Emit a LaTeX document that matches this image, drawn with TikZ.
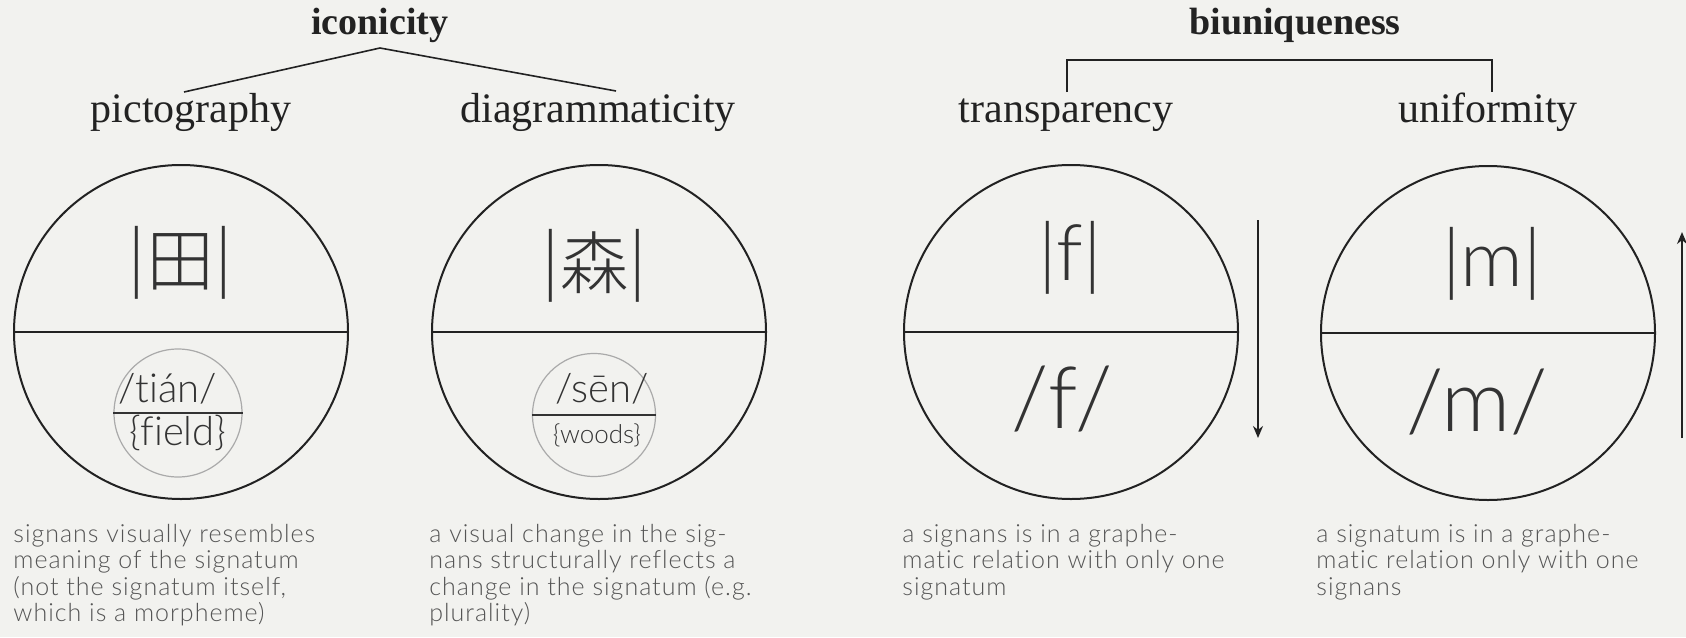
\documentclass[tikz,border=0pt]{standalone}
\usepackage{fontspec}
\setmainfont{Liberation Serif}
\newfontfamily\lightsans{Lato Light}[Ligatures=NoCommon]
\newfontfamily\desclight{Lato Light}[LetterSpace=4,Ligatures=NoCommon]
\newfontfamily\cjk{Noto Sans CJK SC Light}
\usetikzlibrary{arrows.meta}
\definecolor{bg}{HTML}{F2F2EF}
\definecolor{ink}{HTML}{222222}
\definecolor{glyph}{HTML}{333333}
\definecolor{desc}{HTML}{555555}
\definecolor{ring}{HTML}{AAAAAA}
\begin{document}
\begin{tikzpicture}[x=0.5pt,y=-0.5pt,
  head/.style={font=\fontsize{19}{22}\selectfont\bfseries, inner sep=0, anchor=base, text=ink},
  sub/.style={font=\fontsize{21}{24}\selectfont, inner sep=0, anchor=base, text=ink},
  bigc/.style={circle, draw=ink, line width=1pt, minimum size=167pt, inner sep=0},
  smallc/.style={circle, draw=ring, line width=0.6pt, inner sep=0},
  big/.style={font=\lightsans\fontsize{39}{44}\selectfont, text=glyph, inner sep=0},
  bigph/.style={font=\lightsans\fontsize{43}{48}\selectfont, text=glyph, inner sep=0},
  ph/.style={font=\lightsans\fontsize{20}{24}\selectfont, text=glyph, inner sep=0, anchor=base},
  desctext/.style={font=\desclight\fontsize{12.5}{13.2}\selectfont, text=desc, inner sep=0, anchor=north west, align=left},
  conn/.style={draw=ink, line width=0.8pt},
  divider/.style={draw=ink, line width=1pt},
  arr/.style={draw=ink, line width=0.9pt, -{Stealth[length=6pt,width=5pt]}}
]
\fill[bg] (0,0) rectangle (1686,637);
\useasboundingbox (0,0) rectangle (1686,637);

% headings
\node[head] (ico) at (380,34) {iconicity};
\node[head] (biu) at (1295,34) {biuniqueness};
\node[sub] (pic) at (191,122) {pictography};
\node[sub] (dia) at (598,122) {diagrammaticity};
\node[sub] (tra) at (1066,122) {transparency};
\node[sub] (uni) at (1488,122) {uniformity};

\path (ico.base) ++(0,14) coordinate (apex);
\path (pic.base) ++(-7,-30) coordinate (picTop);
\path (dia.base) ++(18,-31) coordinate (diaTop);
\draw[conn] (picTop) -- (apex) -- (diaTop);

\coordinate (bar) at (0,60);
\path (tra.base) ++(1,-30) coordinate (traTop);
\path (uni.base) ++(4,-30) coordinate (uniTop);
\draw[conn] (traTop) -- (traTop |- bar) -- (uniTop |- bar) -- (uniTop);

% big circles
\node[bigc] (c1) at (181,332) {};
\node[bigc] (c2) at (599,332) {};
\node[bigc] (c3) at (1071,332) {};
\node[bigc] (c4) at (1488,333) {};
\draw[divider] (c1.west) -- (c1.east);
\draw[divider] (c2.west) -- (c2.east);
\draw[divider] (c3.west) -- (c3.east);
\draw[divider] (c4.west) -- (c4.east);

% small circles
\node[smallc, minimum size=64pt] (i1) at (178,413) {};
\node[smallc, minimum size=61.5pt] (i2) at (594,415) {};
\draw[draw=glyph, line width=1pt] (i1.west) -- (i1.east);
\draw[draw=glyph, line width=1pt] (i2.west) -- (i2.east);

% glyphs
\node[big] (g1) at (180,263) {|{\cjk\fontsize{34}{40}\selectfont 田}|};
\node[big] (g2) at (594,266) {|{\cjk\fontsize{34}{40}\selectfont 森}|};
\node[big] (g3) at (1070,258) {|f|};
\node[big] (g4) at (1492,264) {|m|};
\node[bigph] (p3) at (1062,399) {/f/};
\node[bigph] (p4) at (1477,402) {/m/};

\node[ph] (t1) at (168,402) {/tián/};
\node[ph] (f1) at (178,445) {\{field\}};
\node[ph] (t2) at (602,402) {/sēn/};
\node[ph, font=\lightsans\fontsize{13}{15}\selectfont] (f2) at (597,443) {\{woods\}};

% arrows
\coordinate (a1s) at (1258,220);
\coordinate (a1e) at (1258,438);
\draw[arr] (a1s) -- (a1e);
\coordinate (a2s) at (1682,438);
\coordinate (a2e) at (1682,232);
\draw[arr] (a2s) -- (a2e);

% descriptions
\node[desctext] (d1) at (13,524) {signans visually resembles\\meaning of the signatum\\(not the signatum itself,\\which is a morpheme)};
\node[desctext] (d2) at (429,524) {a visual change in the sig-\\nans structurally reflects a\\change in the signatum (e.g.\\plurality)};
\node[desctext] (d3) at (902,524) {a signans is in a graphe-\\matic relation with only one\\signatum};
\node[desctext] (d4) at (1316,524) {a signatum is in a graphe-\\matic relation only with one\\signans};
\end{tikzpicture}
\end{document}
